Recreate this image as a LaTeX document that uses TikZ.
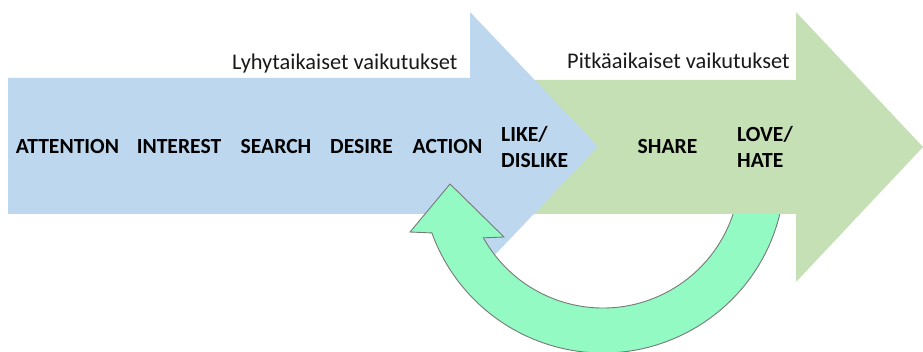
\documentclass[tikz,border=0pt]{standalone}
\usepackage{fontspec}
\setmainfont{Carlito}
\usetikzlibrary{calc}
\definecolor{shortblue}{RGB}{189,215,238}
\definecolor{longgreen}{RGB}{197,224,180}
\definecolor{loopmint}{RGB}{146,250,194}
\definecolor{loopedge}{RGB}{120,120,120}
\begin{document}
\begin{tikzpicture}[x=1pt,y=-1pt,
  stage/.style={font=\fontsize{21.6}{26}\selectfont\bfseries, text=black, inner sep=0pt},
  period/.style={font=\fontsize{22.4}{26}\selectfont, text=black!90, inner sep=0pt, anchor=base west}]
\useasboundingbox (0,0) rectangle (923,352);
% long-term (green) arrow
\fill[longgreen] (530,80) -- (796,80) -- (796,12) -- (923,147) -- (796,282) -- (796,214) -- (530,214) -- cycle;
% short-term (blue) arrow
\fill[shortblue] (8,78) -- (470,78) -- (470,12) -- (598,146.5) -- (470,281) -- (470,214) -- (8,214) -- cycle;
% circular feedback arrow
\coordinate (c) at (603,171);
\coordinate (hl) at (410,232);
\coordinate (ht) at (450,184);
\coordinate (hr) at (504,237);
\fill[loopmint] ($(c)+(13.66:182)$) arc[start angle=13.66, end angle=160.1, radius=182]
  -- (hl) -- (ht) -- (hr) -- ($(c)+(150.8:137)$)
  arc[start angle=150.8, end angle=18.29, radius=137] -- cycle;
\draw[loopedge, line width=0.9pt, line join=miter] ($(c)+(13.66:182)$) arc[start angle=13.66, end angle=160.1, radius=182]
  -- (hl) -- (ht) -- (hr) -- ($(c)+(150.8:137)$)
  arc[start angle=150.8, end angle=18.29, radius=137];
% redraw green body edge over loop start
\fill[longgreen] (700,205) rectangle (796,214);
% labels
\node[period] (lyhyt) at (232,69.5) {Lyhytaikaiset vaikutukset};
\node[period] (pitka) at (567,69) {Pitkäaikaiset vaikutukset};
\node[stage, anchor=base] (attention) at (67.5,154) {ATTENTION};
\node[stage, anchor=base] (interest) at (179,154) {INTEREST};
\node[stage, anchor=base] (search) at (276,154) {SEARCH};
\node[stage, anchor=base] (desire) at (361.5,154) {DESIRE};
\node[stage, anchor=base] (action) at (447.5,154) {ACTION};
\node[stage, anchor=west, align=left] (like) at (501,147) {LIKE/\\DISLIKE};
\node[stage, anchor=base] (share) at (667.5,154) {SHARE};
\node[stage, anchor=west, align=left] (love) at (737,147) {LOVE/\\HATE};
\end{tikzpicture}
\end{document}
